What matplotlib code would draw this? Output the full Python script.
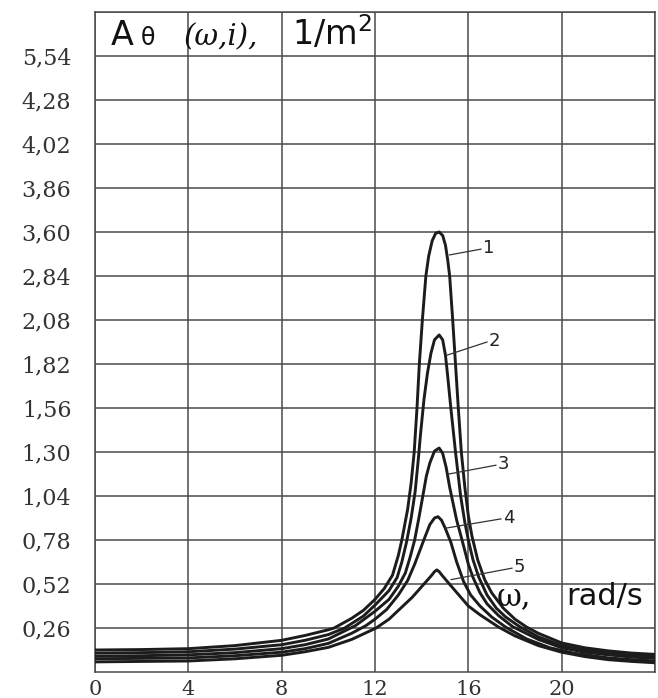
import matplotlib
matplotlib.use("Agg")
import matplotlib.pyplot as plt

# frequency (rad/s) and amplitude, amplitude in grid steps of the uneven y scale
w1 = [0, 2, 4, 6, 8, 9, 10, 10.25, 11, 11.5, 12, 12.4, 12.75, 13.0, 13.15, 13.4, 13.55, 13.68, 13.8, 13.9,
      14.03, 14.18, 14.3, 14.45, 14.6, 14.75, 14.9, 15.02, 15.12, 15.2, 15.33, 15.45, 15.57, 15.7, 15.85,
      16.0, 16.15, 16.4, 16.7, 17.0, 17.5, 18.0, 18.5, 19.0, 20.0, 21.0, 22.0, 23.0, 24.0]
a1 = [0.50, 0.51, 0.53, 0.60, 0.72, 0.83, 0.96, 1.0, 1.22, 1.4, 1.65, 1.9, 2.2, 2.65, 3.0, 3.7, 4.3, 5.0, 6.0, 7.0,
      8.0, 9.0, 9.45, 9.8, 9.97, 10.0, 9.92, 9.7, 9.35, 9.0, 8.0, 7.0, 6.0, 5.0, 4.2,
      3.55, 3.1, 2.55, 2.1, 1.8, 1.45, 1.2, 1.02, 0.88, 0.66, 0.55, 0.48, 0.43, 0.40]

w2 = [0, 2, 4, 6, 8, 9, 10, 10.7, 11.5, 12.0, 12.6, 12.95, 13.15, 13.35, 13.55, 13.72, 13.85, 13.95, 14.1,
      14.25, 14.4, 14.55, 14.75, 14.9, 15.02, 15.12, 15.25, 15.45, 15.67, 15.85, 16.0, 16.2, 16.45, 16.8,
      17.2, 17.6, 18.2, 19.0, 20.0, 21.0, 22.0, 23.0, 24.0]
a2 = [0.43, 0.44, 0.46, 0.52, 0.62, 0.72, 0.85, 1.0, 1.27, 1.52, 1.85, 2.15, 2.5, 2.95, 3.5, 4.1, 4.8, 5.4, 6.2,
      6.8, 7.25, 7.55, 7.66, 7.55, 7.2, 6.7, 6.0, 5.0, 4.0, 3.4, 3.0, 2.55, 2.15, 1.75,
      1.45, 1.25, 1.03, 0.8, 0.6, 0.5, 0.44, 0.39, 0.36]

w3 = [0, 2, 4, 6, 8, 9, 10, 11.15, 12.0, 12.6, 13.0, 13.3, 13.5, 13.7, 13.88, 14.05, 14.2, 14.35, 14.55, 14.75,
      14.9, 15.05, 15.2, 15.34, 15.5, 15.73, 16.0, 16.2, 16.5, 16.8, 17.3, 17.9, 19.0, 20.0, 21.0, 22.0,
      23.0, 24.0]
a3 = [0.36, 0.37, 0.39, 0.44, 0.53, 0.62, 0.75, 1.05, 1.38, 1.65, 1.95, 2.25, 2.6, 3.0, 3.5, 4.0, 4.45, 4.75, 5.02, 5.09,
      4.97, 4.65, 4.2, 3.85, 3.45, 3.0, 2.45, 2.15, 1.8, 1.55, 1.28, 1.03, 0.74, 0.55, 0.45, 0.39,
      0.34, 0.31]

w4 = [0, 2, 4, 6, 8, 9, 10, 11, 11.6, 12.0, 12.5, 13.0, 13.4, 13.7, 13.95, 14.15, 14.35, 14.55, 14.7, 14.85, 15.0,
      15.25, 15.5, 15.8, 16.1, 16.5, 17.0, 17.6, 18.5, 19.5, 20.5, 22.0, 23.0, 24.0]
a4 = [0.30, 0.31, 0.32, 0.37, 0.45, 0.53, 0.65, 0.88, 1.05, 1.2, 1.42, 1.75, 2.08, 2.45, 2.8, 3.08, 3.35, 3.5, 3.53,
      3.45, 3.28, 2.95, 2.5, 2.05, 1.75, 1.5, 1.25, 1.02, 0.75, 0.55, 0.43, 0.32, 0.28, 0.25]

w5 = [0, 2, 4, 6, 8, 9, 10, 11, 12.05, 12.6, 13.0, 13.6, 14.1, 14.4, 14.55, 14.65, 14.75, 14.9, 15.35, 16.0,
      16.5, 17.3, 18.0, 19.0, 20.0, 21.0, 22.0, 23.0, 24.0]
a5 = [0.23, 0.24, 0.25, 0.30, 0.38, 0.46, 0.56, 0.74, 1.0, 1.2, 1.4, 1.7, 2.0, 2.18, 2.28, 2.32, 2.28, 2.18, 1.9, 1.5,
      1.3, 1.02, 0.82, 0.6, 0.45, 0.35, 0.28, 0.24, 0.21]

curves = [(w1, a1), (w2, a2), (w3, a3), (w4, a4), (w5, a5)]
curve_names = ["1", "2", "3", "4", "5"]
# where each leader line starts on its curve and where the number sits
leader_from = [(15.2, 9.48), (15.08, 7.2), (15.17, 4.5), (15.04, 3.27), (15.26, 2.1)]
leader_to = [(16.54, 9.61), (16.8, 7.5), (17.18, 4.7), (17.4, 3.48), (17.87, 2.36)]

x_ticks = [0, 4, 8, 12, 16, 20]
y_labels = ["0,26", "0,52", "0,78", "1,04", "1,30", "1,56", "1,82",
            "2,08", "2,84", "3,60", "3,86", "4,02", "4,28", "5,54"]

W, H = 658, 698
fig = plt.figure(figsize=(W / 100, H / 100), dpi=100)
ax = fig.add_axes([95 / W, 26 / H, 560 / W, 660 / H])

for w, a in curves:
    ax.plot(w, a, color="#1c1c1c", lw=2.1, solid_joinstyle="round", zorder=3)

for name, p0, p1 in zip(curve_names, leader_from, leader_to):
    ax.plot([p0[0], p1[0]], [p0[1], p1[1]], color="#333333", lw=0.9, zorder=3)
    ax.text(p1[0] + 0.08, p1[1] + 0.02, name, fontsize=13, family="DejaVu Sans",
            ha="left", va="center", color="#222222")

ax.set_xlim(0, 24)
ax.set_ylim(0, 15)
ax.set_xticks(x_ticks)
ax.set_yticks(range(1, 15))
ax.set_yticklabels(y_labels)
ax.set_xticks([24], minor=True)
ax.set_yticks([15], minor=True)
ax.grid(True, which="both", color="#4a4a4a", lw=1.1)
ax.set_axisbelow(True)
ax.tick_params(which="both", length=0)
ax.tick_params(axis="y", pad=17, labelsize=16)
ax.tick_params(axis="x", pad=6, labelsize=15)
for lab in ax.get_xticklabels() + ax.get_yticklabels():
    lab.set_family("DejaVu Serif")
    lab.set_color("#333333")
for s in ax.spines.values():
    s.set_color("#4a4a4a")
    s.set_linewidth(1.1)

# title built from pieces, placed in pixels from top-left
def put(px, py, s, **kw):
    fig.text(px / W, 1 - py / H, s, ha="left", va="baseline", color="#111111", **kw)

put(111, 45, "A", fontsize=24, family="DejaVu Sans")
put(141, 45, "θ", fontsize=17, family="DejaVu Sans")
put(184, 45, "(ω,i),", fontsize=21, family="DejaVu Serif", style="italic")
put(292, 45, "1/m$^2$", fontsize=24, family="DejaVu Sans")

put(497, 605, "ω,", fontsize=22, family="DejaVu Serif")
put(566, 605, "rad/s", fontsize=22, family="DejaVu Sans")

fig.savefig("out.png", dpi=100)
